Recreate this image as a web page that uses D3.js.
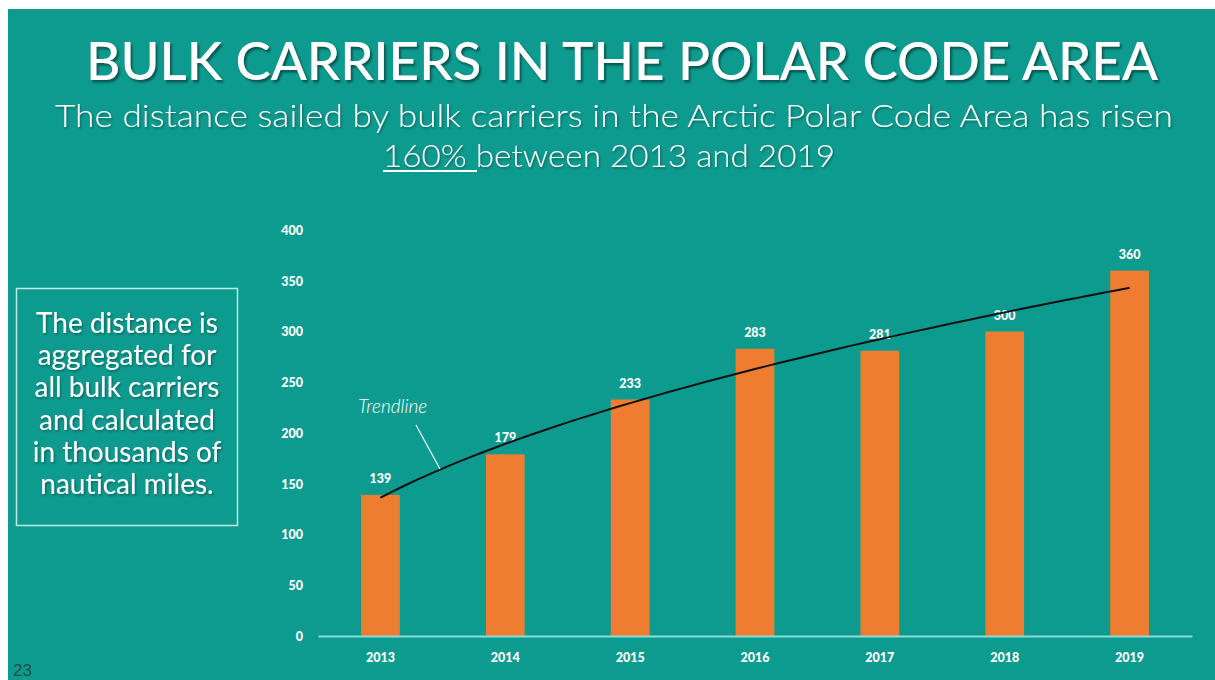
<!DOCTYPE html>
<html>
<head>
<meta charset="utf-8">
<script src="https://cdn.jsdelivr.net/npm/d3@7"></script>
<style>
  html, body { margin: 0; padding: 0; background: #ffffff; }
  svg { display: block; }
</style>
</head>
<body>
<svg id="chart" width="1215" height="680"></svg>
<script>
// Distance sailed by bulk carriers in the Arctic Polar Code Area (thousand nautical miles)
const years = ["2013", "2014", "2015", "2016", "2017", "2018", "2019"];
const distance = [139, 179, 233, 283, 281, 300, 360];
const yTicks = [0, 50, 100, 150, 200, 250, 300, 350, 400];

const titleText = "BULK CARRIERS IN THE POLAR CODE AREA";
const subtitleLine1 = "The distance sailed by bulk carriers in the Arctic Polar Code Area has risen";
const subtitleEmph = "160% ";
const subtitleRest = "between 2013 and 2019";
const noteLines = ["The distance is", "aggregated for", "all bulk carriers", "and calculated", "in thousands of", "nautical miles."];
const pageNumber = "23";

const teal = "#0e9b8f";
const orange = "#ee7d31";

const svg = d3.select("#chart");

const defs = svg.append("defs");
const shadow = defs.append("filter").attr("id", "txtShadow")
  .attr("x", "-5%").attr("y", "-20%").attr("width", "110%").attr("height", "150%");
shadow.append("feDropShadow").attr("dx", 2).attr("dy", 2.5).attr("stdDeviation", 1.2)
  .attr("flood-color", "#053f3a").attr("flood-opacity", 0.75);
const softShadow = defs.append("filter").attr("id", "softShadow")
  .attr("x", "-5%").attr("y", "-20%").attr("width", "110%").attr("height", "150%");
softShadow.append("feDropShadow").attr("dx", 1.2).attr("dy", 1.5).attr("stdDeviation", 0.8)
  .attr("flood-color", "#053f3a").attr("flood-opacity", 0.6);

// slide background
svg.append("rect").attr("x", 8).attr("y", 9).attr("width", 1207).attr("height", 671).attr("fill", teal);

// heading
svg.append("text")
  .attr("x", 622).attr("y", 80)
  .attr("text-anchor", "middle")
  .attr("font-family", "Lato, 'Open Sans', sans-serif")
  .attr("font-size", 52).attr("font-weight", 500)
  .attr("fill", "#ffffff")
  .attr("textLength", 1072).attr("lengthAdjust", "spacingAndGlyphs")
  .attr("filter", "url(#txtShadow)")
  .text(titleText);

svg.append("text")
  .attr("x", 614).attr("y", 127)
  .attr("text-anchor", "middle")
  .attr("font-family", "Lato, 'Open Sans', sans-serif")
  .attr("font-size", 31).attr("font-weight", 300)
  .attr("fill", "#ffffff")
  .attr("textLength", 1118).attr("lengthAdjust", "spacingAndGlyphs")
  .attr("filter", "url(#softShadow)")
  .text(subtitleLine1);

const sub2 = svg.append("text")
  .attr("x", 383).attr("y", 167)
  .attr("font-family", "Lato, 'Open Sans', sans-serif")
  .attr("font-size", 31).attr("font-weight", 300)
  .attr("fill", "#ffffff")
  .attr("filter", "url(#softShadow)");
sub2.append("tspan").text(subtitleEmph);
sub2.append("tspan").text(subtitleRest);
sub2.attr("textLength", 452).attr("lengthAdjust", "spacingAndGlyphs");
svg.append("line")
  .attr("x1", 383).attr("x2", 477).attr("y1", 171).attr("y2", 171)
  .attr("stroke", "#ffffff").attr("stroke-width", 2);

// side note box
svg.append("rect")
  .attr("x", 16.5).attr("y", 288.5).attr("width", 221).attr("height", 237)
  .attr("fill", "none").attr("stroke", "#bfe9e5").attr("stroke-width", 1.5);
svg.append("g").selectAll("text").data(noteLines).join("text")
  .attr("x", 127).attr("y", (d, i) => 333 + i * 32.2)
  .attr("text-anchor", "middle")
  .attr("font-family", "Lato, 'Open Sans', sans-serif")
  .attr("font-size", 28).attr("font-weight", 400)
  .attr("fill", "#ffffff")
  .attr("filter", "url(#softShadow)")
  .text(d => d);

// page number
svg.append("text")
  .attr("x", 13).attr("y", 676)
  .attr("font-family", "'Liberation Sans', Arial, sans-serif")
  .attr("font-size", 17)
  .attr("fill", "#1d4f4b")
  .text(pageNumber);

// chart scales
const x = d3.scaleBand().domain(years).range([318, 1192]).paddingInner(0.69).paddingOuter(0.345);
const y = d3.scaleLinear().domain([0, 400]).range([636, 230]);

// y tick labels
const yAxis = d3.axisLeft(y).tickValues(yTicks).tickSize(0).tickPadding(0);
const gy = svg.append("g").attr("transform", "translate(303,0)").call(yAxis);
gy.select(".domain").remove();
gy.selectAll("text")
  .attr("fill", "#ffffff")
  .attr("font-family", "Lato, 'Open Sans', sans-serif")
  .attr("font-size", 12.5).attr("font-weight", 900)
  .attr("dy", "0.35em");

// bars
svg.append("g").selectAll("rect").data(distance).join("rect")
  .attr("x", (d, i) => x(years[i]))
  .attr("y", d => y(d))
  .attr("width", x.bandwidth())
  .attr("height", d => y(0) - y(d))
  .attr("fill", orange);

// baseline with x labels
const xAxis = d3.axisBottom(x).tickSize(0).tickPadding(17);
const gx = svg.append("g").attr("transform", `translate(0,${y(0)})`).call(xAxis);
gx.select(".domain").attr("stroke", "#8fdcd7").attr("stroke-width", 2);
gx.selectAll("text")
  .attr("fill", "#ffffff")
  .attr("font-family", "Lato, 'Open Sans', sans-serif")
  .attr("font-size", 12.5).attr("font-weight", 900);

// value labels
svg.append("g").selectAll("text").data(distance).join("text")
  .attr("x", (d, i) => x(years[i]) + x.bandwidth() / 2)
  .attr("y", d => y(d) - 12)
  .attr("text-anchor", "middle")
  .attr("fill", "#ffffff")
  .attr("font-family", "Lato, 'Open Sans', sans-serif")
  .attr("font-size", 12.5).attr("font-weight", 900)
  .text(d => d);

// power-law trendline (least squares fit of ln(value) on ln(index))
const lx = distance.map((d, i) => Math.log(i + 1));
const ly = distance.map(d => Math.log(d));
const mx = d3.mean(lx), my = d3.mean(ly);
const slope = d3.sum(lx, (v, i) => (v - mx) * (ly[i] - my)) / d3.sum(lx, v => (v - mx) * (v - mx));
const coef = Math.exp(my - slope * mx);
const trendAt = t => coef * Math.pow(t, slope);
const px = d3.scaleLinear().domain([1, years.length])
  .range([x(years[0]) + x.bandwidth() / 2, x(years[years.length - 1]) + x.bandwidth() / 2]);
const trendPts = d3.range(0, 61).map(k => 1 + k * (years.length - 1) / 60);
svg.append("path")
  .datum(trendPts)
  .attr("fill", "none").attr("stroke", "#111111").attr("stroke-width", 2)
  .attr("d", d3.line().x(t => px(t)).y(t => y(trendAt(t))).curve(d3.curveBasis));

// trendline callout
svg.append("text")
  .attr("x", 358).attr("y", 413)
  .attr("font-family", "Lato, 'Open Sans', sans-serif")
  .attr("font-size", 19).attr("font-style", "italic").attr("font-weight", 300)
  .attr("fill", "#ffffff")
  .text("Trendline");
svg.append("line")
  .attr("x1", 416).attr("y1", 425).attr("x2", 440).attr("y2", 469)
  .attr("stroke", "#e6f7f5").attr("stroke-width", 1.3);
</script>
</body>
</html>
